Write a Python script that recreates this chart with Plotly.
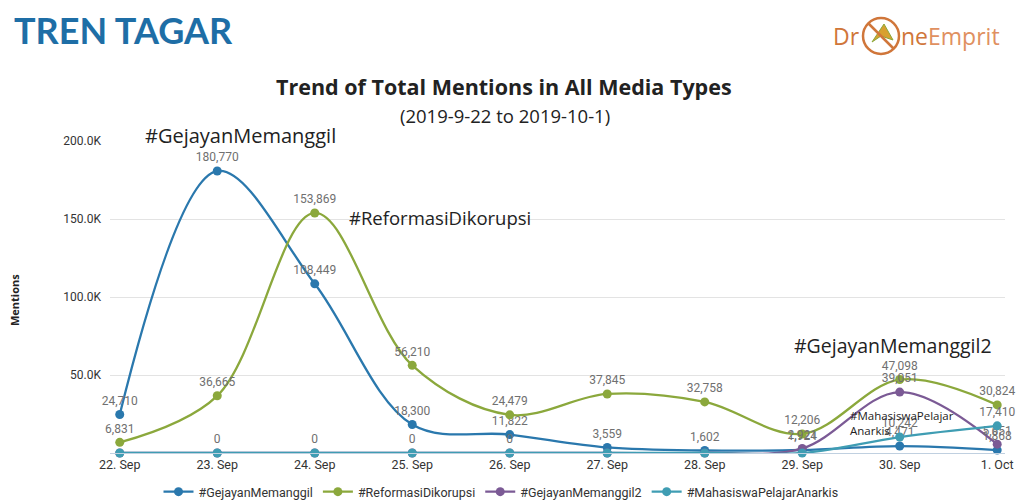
import plotly.graph_objects as go

dates = ["22. Sep", "23. Sep", "24. Sep", "25. Sep", "26. Sep", "27. Sep", "28. Sep", "29. Sep", "30. Sep", "1. Oct"]
gejayan = [24710, 180770, 108449, 18300, 11822, 3559, 1602, 1924, 4471, 1868]
reformasi = [6831, 36665, 153869, 56210, 24479, 37845, 32758, 12206, 47098, 30824]
gejayan2 = [0, 0, 0, 0, 0, 0, 0, 2921, 39051, 5651]
mahasiswa = [0, 0, 0, 0, 0, 0, 0, 0, 10242, 17410]
y_ticks = [50000, 100000, 150000, 200000]
y_tick_labels = ["50.0K", "100.0K", "150.0K", "200.0K"]

series = [
    ("#GejayanMemanggil", gejayan, "#2a78ad", [True] * 10),
    ("#ReformasiDikorupsi", reformasi, "#8ba83c", [True] * 10),
    ("#GejayanMemanggil2", gejayan2, "#7b5a95", [False] * 7 + [True] * 3),
    ("#MahasiswaPelajarAnarkis", mahasiswa, "#3f9db3", [False, True, True, True, True, False, False, False, True, True]),
]

font_main = "Roboto, Open Sans, sans-serif"
font_title = "Open Sans, sans-serif"

L, R, T, B = 110, 1005, 141, 453
W, H = R - L, B - T


def px(xp):
    return (xp - L) / W


def py(yp):
    return (B - yp) / H


x = list(range(len(dates)))
fig = go.Figure()
for name, vals, color, show in series:
    fig.add_trace(go.Scatter(
        x=x, y=vals, name=name, mode="lines+markers+text",
        line=dict(color=color, width=2.3, shape="spline", smoothing=1.0),
        marker=dict(color=color, size=9),
        text=[f"{v:,}" if s else "" for v, s in zip(vals, show)],
        textposition="top center",
        textfont=dict(size=12, color="#707070", family=font_main),
        cliponaxis=False,
    ))

fig.update_layout(
    width=1021, height=503,
    margin=dict(l=L, r=1021 - R, t=T, b=503 - B, autoexpand=False),
    paper_bgcolor="white", plot_bgcolor="white",
    font=dict(family=font_main, color="#333"),
    showlegend=True,
    legend=dict(orientation="h", x=px(501), xanchor="center", y=py(492), yanchor="middle",
                font=dict(size=12.5, color="#333", family=font_main), itemwidth=30, tracegroupgap=0),
    xaxis=dict(range=[-0.1, 9.08], tickmode="array", tickvals=x, ticktext=dates,
               showgrid=False, zeroline=False, showline=True, linecolor="#c0d0e0", linewidth=1,
               tickfont=dict(size=12.5, color="#333", family=font_main), ticks="", fixedrange=True),
    yaxis=dict(range=[0, 200000], tickmode="array", tickvals=y_ticks, ticktext=y_tick_labels,
               showgrid=True, gridcolor="#e3e3e3", zeroline=False, showline=False,
               tickfont=dict(size=12, color="#333", family=font_main), ticklabelstandoff=8),
)

ann = []
ann.append(dict(text="<b>TREN TAGAR</b>", xref="paper", yref="paper", x=px(12), y=py(30),
                xanchor="left", yanchor="middle", showarrow=False,
                font=dict(size=36, color="#1e6ea6", family="Lato, Open Sans, sans-serif")))
ann.append(dict(text="<b>Trend of Total Mentions in All Media Types</b>", xref="paper", yref="paper",
                x=px(504), y=py(87), xanchor="center", yanchor="middle", showarrow=False,
                font=dict(size=21.5, color="#222", family=font_title)))
ann.append(dict(text="(2019-9-22 to 2019-10-1)", xref="paper", yref="paper",
                x=px(505), y=py(115), xanchor="center", yanchor="middle", showarrow=False,
                font=dict(size=18.5, color="#222", family=font_title)))
ann.append(dict(text="<b>Mentions</b>", xref="paper", yref="paper", x=px(14), y=py(300),
                xanchor="center", yanchor="middle", textangle=-90, showarrow=False,
                font=dict(size=11, color="#222", family=font_title)))
# hashtag labels
ann.append(dict(text="#GejayanMemanggil", xref="paper", yref="paper", x=px(143), y=py(135),
                xanchor="left", yanchor="middle", showarrow=False,
                font=dict(size=20, color="#222", family=font_title)))
ann.append(dict(text="#ReformasiDikorupsi", xref="paper", yref="paper", x=px(347), y=py(217),
                xanchor="left", yanchor="middle", showarrow=False,
                font=dict(size=18.5, color="#222", family=font_title)))
ann.append(dict(text="#GejayanMemanggil2", xref="paper", yref="paper", x=px(792), y=py(345),
                xanchor="left", yanchor="middle", showarrow=False,
                font=dict(size=19.5, color="#222", family=font_title)))
ann.append(dict(text="#MahasiswaPelajar<br>Anarkis", xref="paper", yref="paper", x=px(848), y=py(423),
                xanchor="left", yanchor="middle", align="left", showarrow=False,
                font=dict(size=11.5, color="#222", family=font_title)))
# logo
ann.append(dict(text="Dr", xref="paper", yref="paper", x=px(862), y=py(36),
                xanchor="right", yanchor="middle", showarrow=False,
                font=dict(size=23, color="#d0763a", family=font_title)))
ann.append(dict(text="ne<span style='color:#e09060'>Emprit</span>", xref="paper", yref="paper",
                x=px(899), y=py(36), xanchor="left", yanchor="middle", showarrow=False,
                font=dict(size=23, color="#d0763a", family=font_title)))
fig.update_layout(annotations=ann)

cx0, cx1 = px(863), px(899)
cy0, cy1 = py(54), py(18)
fig.add_shape(type="circle", xref="paper", yref="paper", x0=cx0, x1=cx1, y0=cy0, y1=cy1,
              line=dict(color="#d0763a", width=2.5))
fig.add_shape(type="path", xref="paper", yref="paper",
              path=f"M {px(872)},{py(42)} L {px(884)},{py(24)} L {px(893)},{py(40)} L {px(881)},{py(36)} Z",
              fillcolor="#d8a030", line=dict(color="#8aa83a", width=1))
fig.add_shape(type="line", xref="paper", yref="paper", x0=px(868), y0=py(23),
              x1=px(894), y1=py(49), line=dict(color="#d0763a", width=2.5))

fig.write_html("out.html", config={"displayModeBar": False},
               post_script="document.body.style.margin='0';document.body.style.overflow='hidden';")
